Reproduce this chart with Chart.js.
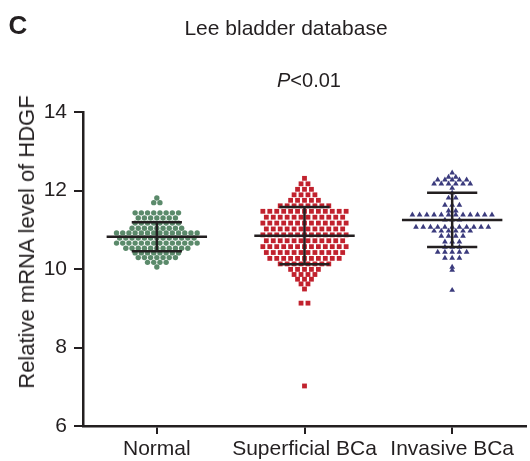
<!DOCTYPE html>
<html>
<head>
<meta charset="utf-8">
<script src="https://cdn.jsdelivr.net/npm/chart.js@4.4.1/dist/chart.umd.min.js"></script>
<style>
  body { margin: 0; background: #fff; }
  #wrap { position: relative; width: 530px; height: 461px; font-family: "Liberation Sans", Arial, sans-serif; color: #231f20; }
  #chart { position: absolute; left: 0; top: 0; }
  .txt { position: absolute; white-space: nowrap; line-height: 1; transform: translate(-50%, -50%); }
  #panel { left: 18px; top: 25px; font-size: 26px; font-weight: bold; }
  #title { left: 286px; top: 27px; font-size: 21px; }
  #pval { left: 309px; top: 80px; font-size: 20px; }
  #ylab { left: 27px; top: 242px; font-size: 22px; transform: translate(-50%, -50%) rotate(-90deg); }
</style>
</head>
<body>
<div id="wrap">
  <canvas id="chart" width="530" height="461"></canvas>
  <div class="txt" id="panel">C</div>
  <div class="txt" id="title">Lee bladder database</div>
  <div class="txt" id="pval"><i>P</i>&lt;0.01</div>
  <div class="txt" id="ylab">Relative mRNA level of HDGF</div>
</div>
<script>
// groups on the x axis
const categories = ['Normal', 'Superficial BCa', 'Invasive BCa'];
const yTicks = [6, 8, 10, 12, 14];

// relative HDGF mRNA, one value per sample
const normalValues = [
  11.81, 11.69, 11.69,
  11.43, 11.43, 11.43, 11.43, 11.43, 11.43, 11.43, 11.43,
  11.30, 11.30, 11.30, 11.30, 11.30, 11.30, 11.30,
  11.17, 11.17, 11.17, 11.17, 11.17, 11.17, 11.17, 11.17,
  11.04, 11.04, 11.04, 11.04, 11.04, 11.04, 11.04, 11.04, 11.04,
  10.92, 10.92, 10.92, 10.92, 10.92, 10.92, 10.92, 10.92, 10.92, 10.92, 10.92, 10.92, 10.92, 10.92,
  10.79, 10.79, 10.79, 10.79, 10.79, 10.79, 10.79, 10.79, 10.79, 10.79, 10.79, 10.79, 10.79,
  10.66, 10.66, 10.66, 10.66, 10.66, 10.66, 10.66, 10.66, 10.66, 10.66, 10.66, 10.66, 10.66, 10.66,
  10.53, 10.53, 10.53, 10.53, 10.53, 10.53, 10.53, 10.53, 10.53, 10.53, 10.53,
  10.41, 10.41, 10.41, 10.41, 10.41, 10.41, 10.41, 10.41,
  10.29, 10.29, 10.29, 10.29, 10.29, 10.29, 10.29,
  10.17, 10.17, 10.17, 10.17,
  10.05
];
const superficialValues = [
  12.31,
  12.17, 12.17,
  12.03, 12.03, 12.03,
  11.89, 11.89, 11.89, 11.89,
  11.75, 11.75, 11.75, 11.75, 11.75,
  11.61, 11.61, 11.61, 11.61, 11.61, 11.61, 11.61, 11.61,
  11.47, 11.47, 11.47, 11.47, 11.47, 11.47, 11.47, 11.47, 11.47, 11.47, 11.47, 11.47, 11.47,
  11.32, 11.32, 11.32, 11.32, 11.32, 11.32, 11.32, 11.32, 11.32, 11.32, 11.32, 11.32,
  11.17, 11.17, 11.17, 11.17, 11.17, 11.17, 11.17, 11.17, 11.17, 11.17, 11.17, 11.17, 11.17,
  11.02, 11.02, 11.02, 11.02, 11.02, 11.02, 11.02, 11.02, 11.02, 11.02, 11.02, 11.02,
  10.87, 10.87, 10.87, 10.87, 10.87, 10.87, 10.87, 10.87, 10.87, 10.87, 10.87, 10.87, 10.87,
  10.72, 10.72, 10.72, 10.72, 10.72, 10.72, 10.72, 10.72, 10.72, 10.72, 10.72, 10.72,
  10.57, 10.57, 10.57, 10.57, 10.57, 10.57, 10.57, 10.57, 10.57, 10.57, 10.57, 10.57, 10.57,
  10.42, 10.42, 10.42, 10.42, 10.42, 10.42, 10.42, 10.42, 10.42, 10.42, 10.42, 10.42,
  10.27, 10.27, 10.27, 10.27, 10.27, 10.27, 10.27, 10.27, 10.27, 10.27, 10.27,
  10.13, 10.13, 10.13, 10.13, 10.13, 10.13, 10.13, 10.13,
  9.99, 9.99, 9.99, 9.99, 9.99,
  9.86, 9.86, 9.86, 9.86,
  9.74, 9.74, 9.74,
  9.62, 9.62,
  9.49,
  9.13, 9.13,
  7.02
];
const invasiveValues = [
  12.45,
  12.34, 12.34,
  12.27, 12.27, 12.27, 12.27, 12.27,
  12.17, 12.17, 12.17, 12.17, 12.17, 12.17,
  12.06,
  11.94,
  11.81, 11.81,
  11.63, 11.63, 11.63,
  11.48, 11.48,
  11.38, 11.38, 11.38, 11.38, 11.38, 11.38, 11.38, 11.38, 11.38, 11.38, 11.38, 11.38,
  11.25, 11.25, 11.25,
  11.07, 11.07, 11.07, 11.07, 11.07, 11.07, 11.07, 11.07, 11.07, 11.07, 11.07,
  10.97, 10.97, 10.97, 10.97, 10.97, 10.97,
  10.84, 10.84, 10.84, 10.84,
  10.69, 10.69, 10.69,
  10.56, 10.56, 10.56,
  10.43, 10.43, 10.43, 10.43, 10.43,
  10.28, 10.28, 10.28,
  10.05,
  9.97,
  9.46
];

// mean and SD bars as drawn
const means = [10.82, 10.85, 11.25];
const sds = [0.37, 0.73, 0.69];

// spread samples with the same value side by side around the group centre
function swarm(values, center, dx) {
  const rows = {};
  values.forEach(v => {
    if (!rows[v]) rows[v] = [];
    rows[v].push(v);
  });
  const pts = [];
  Object.keys(rows).forEach(k => {
    const n = rows[k].length;
    rows[k].forEach((v, i) => {
      pts.push({ x: center + (i - (n - 1) / 2) * dx, y: v });
    });
  });
  return pts;
}

// mean line, SD whisker and caps, broken with null gaps
function errorBars() {
  const pts = [];
  means.forEach((m, i) => {
    const c = i + 1;
    const s = sds[i];
    pts.push({ x: c - 0.34, y: m }, { x: c + 0.34, y: m }, { x: c, y: null });
    pts.push({ x: c, y: m - s }, { x: c, y: m + s }, { x: c, y: null });
    pts.push({ x: c - 0.17, y: m + s }, { x: c + 0.17, y: m + s }, { x: c, y: null });
    pts.push({ x: c - 0.17, y: m - s }, { x: c + 0.17, y: m - s }, { x: c, y: null });
  });
  return pts;
}

const ink = '#231f20';
const tickFont = { family: "'Liberation Sans', Arial, sans-serif", size: 21 };

const ctx = document.getElementById('chart').getContext('2d');
new Chart(ctx, {
  type: 'scatter',
  data: {
    datasets: [
      {
        data: errorBars(),
        showLine: true,
        spanGaps: false,
        pointRadius: 0,
        borderColor: ink,
        borderWidth: 2.5,
        order: 0
      },
      {
        data: swarm(normalValues, 1, 0.042),
        pointStyle: 'circle',
        pointRadius: 2.7,
        borderWidth: 0,
        backgroundColor: '#5b8a6b',
        order: 1
      },
      {
        data: swarm(superficialValues, 2, 0.047),
        pointStyle: 'rect',
        pointRadius: 3.4,
        borderWidth: 0,
        backgroundColor: '#c1222e',
        order: 1
      },
      {
        data: swarm(invasiveValues, 3, 0.049),
        pointStyle: 'triangle',
        pointRadius: 3.3,
        borderWidth: 0,
        backgroundColor: '#3b3b7d',
        order: 1
      }
    ]
  },
  options: {
    responsive: false,
    animation: false,
    layout: { padding: { top: 112, left: 0, right: 0, bottom: 0 } },
    plugins: {
      legend: { display: false },
      tooltip: { enabled: false }
    },
    scales: {
      x: {
        type: 'linear',
        min: 0.5,
        max: 3.5,
        afterBuildTicks: scale => {
          scale.ticks = categories.map((c, i) => ({ value: i + 1 }));
        },
        afterFit: scale => { scale.height = 35; },
        ticks: {
          callback: (value, index) => categories[index],
          autoSkip: false,
          maxRotation: 0,
          padding: 3,
          color: ink,
          font: tickFont
        },
        grid: {
          drawOnChartArea: false,
          drawTicks: true,
          tickLength: 8,
          color: ink,
          lineWidth: 2
        },
        border: { color: ink, width: 2.5 }
      },
      y: {
        min: 6,
        max: 14,
        afterBuildTicks: scale => {
          scale.ticks = yTicks.map(v => ({ value: v }));
        },
        afterFit: scale => { scale.width = 83; },
        ticks: {
          padding: 7,
          color: ink,
          font: tickFont
        },
        grid: {
          drawOnChartArea: false,
          drawTicks: true,
          tickLength: 9,
          color: ink,
          lineWidth: 2
        },
        border: { color: ink, width: 2.5 }
      }
    }
  }
});
</script>
</body>
</html>
